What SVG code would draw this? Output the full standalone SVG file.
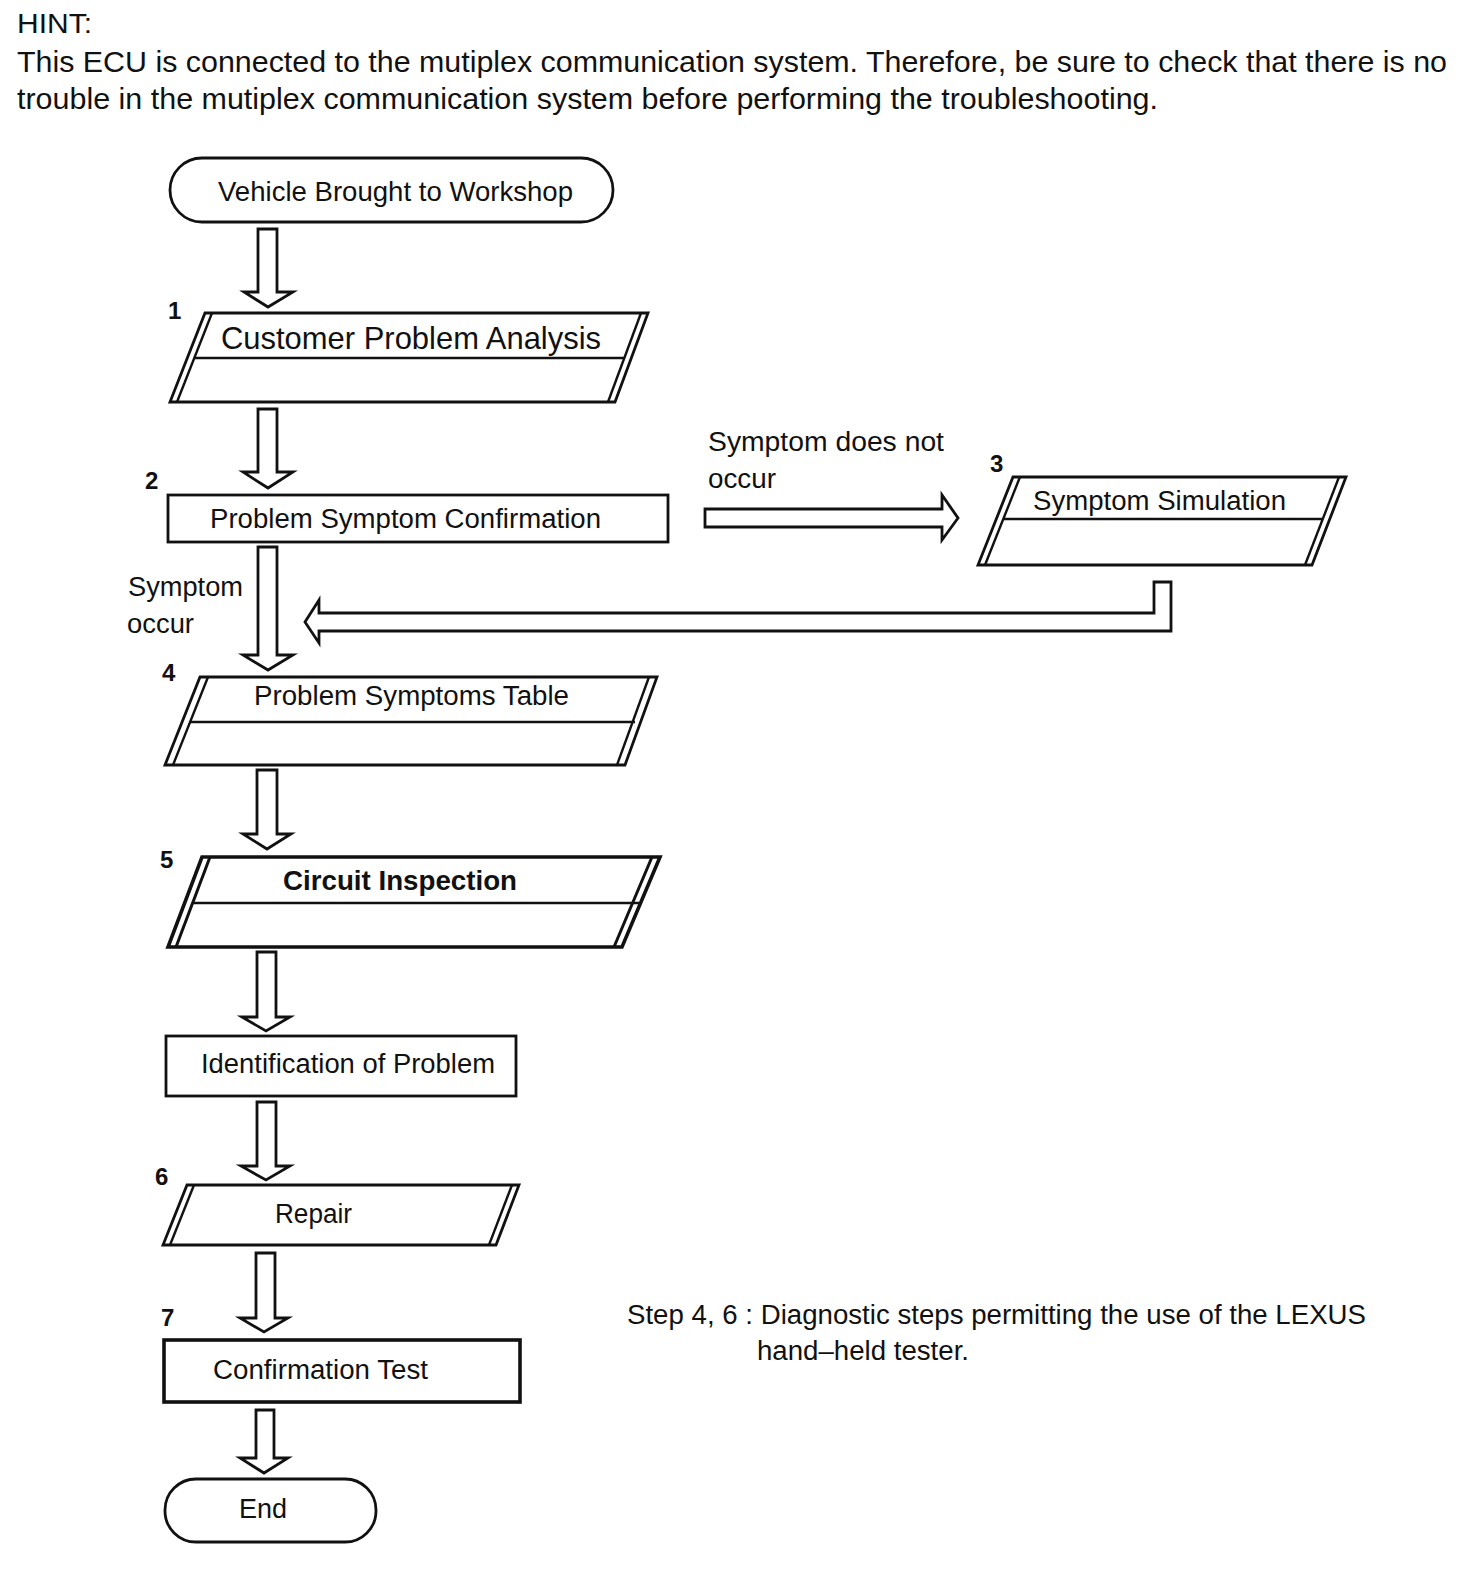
<svg xmlns="http://www.w3.org/2000/svg" width="1472" height="1570" viewBox="0 0 1472 1570">
<style>
text{font-family:"Liberation Sans",Arial,Helvetica,sans-serif;fill:#111;}
.t{font-size:27px;}
.big{font-size:32px;}
.num{font-size:24px;font-weight:bold;}
.shape{fill:#fff;stroke:#111;stroke-width:2.8;stroke-linejoin:miter;}
.thick{stroke-width:3.6;}
.ln{fill:none;stroke:#111;stroke-width:2.4;}
.arr{fill:#fff;stroke:#111;stroke-width:2.8;stroke-linejoin:miter;}
</style>
<rect width="1472" height="1570" fill="#fff"/>

<g id="hint">
<text x="17" y="33" style="font-size:27px" textLength="75" lengthAdjust="spacingAndGlyphs">HINT:</text>
<text x="17" y="72" style="font-size:29px" textLength="1430" lengthAdjust="spacingAndGlyphs">This ECU is connected to the mutiplex communication system. Therefore, be sure to check that there is no</text>
<text x="17" y="109" style="font-size:29px" textLength="1141" lengthAdjust="spacingAndGlyphs">trouble in the mutiplex communication system before performing the troubleshooting.</text>
</g>

<g id="connectors">
<path class="arr" d="M258 229 L277 229 L277 292 L293 292 L268 307 L244 292 L258 292 Z"/>
<path class="arr" d="M258 409 L277 409 L277 472 L293 472 L268 488 L243 472 L258 472 Z"/>
<path class="arr" d="M258 547 L277 547 L277 655 L293 655 L268 670 L243 655 L258 655 Z"/>
<path class="arr" d="M257 770 L277 770 L277 834 L291 834 L267 849 L243 834 L257 834 Z"/>
<path class="arr" d="M257 952 L276 952 L276 1017 L290 1017 L266 1031 L242 1017 L257 1017 Z"/>
<path class="arr" d="M257 1102 L276 1102 L276 1166 L290 1166 L266 1180 L241 1166 L257 1166 Z"/>
<path class="arr" d="M256 1253 L275 1253 L275 1318 L288 1318 L264 1332 L240 1318 L256 1318 Z"/>
<path class="arr" d="M256 1410 L274 1410 L274 1458 L288 1458 L264 1473 L240 1458 L256 1458 Z"/>
<path class="arr" d="M705 509 L942 509 L942 495 L958 518 L942 540 L942 527 L705 527 Z"/>
<path class="arr" d="M1171 582 L1154 582 L1154 613 L319 613 L319 600 L305 622 L319 643 L319 631 L1171 631 Z"/>
</g>

<g id="labels">
<text class="t" x="708" y="451" textLength="236" lengthAdjust="spacingAndGlyphs">Symptom does not</text>
<text class="t" x="708" y="488" textLength="68" lengthAdjust="spacingAndGlyphs">occur</text>
<text class="t" x="128" y="596" textLength="115" lengthAdjust="spacingAndGlyphs">Symptom</text>
<text class="t" x="127" y="633" textLength="67" lengthAdjust="spacingAndGlyphs">occur</text>
</g>

<g id="n0">
<rect class="shape" x="170" y="158" width="443" height="64" rx="32" ry="32"/>
<text x="218" y="201" style="font-size:28px" textLength="355" lengthAdjust="spacingAndGlyphs">Vehicle Brought to Workshop</text>
</g>

<g id="n1">
<polygon class="shape" points="205,313 648,313 615,402 170,402"/>
<line class="ln" x1="212" y1="313" x2="177" y2="402"/>
<line class="ln" x1="641" y1="313" x2="608" y2="402"/>
<line class="ln" x1="194" y1="358" x2="624" y2="358"/>
<text class="big" x="221" y="349" textLength="380" lengthAdjust="spacingAndGlyphs">Customer Problem Analysis</text>
<text class="num" x="168" y="319">1</text>
</g>

<g id="n2">
<rect class="shape" x="168" y="495" width="500" height="47"/>
<text class="t" x="210" y="528" textLength="391" lengthAdjust="spacingAndGlyphs">Problem Symptom Confirmation</text>
<text class="num" x="145" y="489">2</text>
</g>

<g id="n3">
<polygon class="shape" points="1013,477 1346,477 1312,565 978,565"/>
<line class="ln" x1="1020" y1="477" x2="985" y2="565"/>
<line class="ln" x1="1339" y1="477" x2="1305" y2="565"/>
<line class="ln" x1="1003" y1="519" x2="1322" y2="519"/>
<text class="t" x="1033" y="510" textLength="253" lengthAdjust="spacingAndGlyphs">Symptom Simulation</text>
<text class="num" x="990" y="472">3</text>
</g>

<g id="n4">
<polygon class="shape" points="200,677 657,677 625,765 165,765"/>
<line class="ln" x1="208" y1="677" x2="173" y2="765"/>
<line class="ln" x1="649" y1="677" x2="617" y2="765"/>
<line class="ln" x1="190" y1="722" x2="635" y2="722"/>
<text class="t" x="254" y="705" textLength="315" lengthAdjust="spacingAndGlyphs">Problem Symptoms Table</text>
<text class="num" x="162" y="681">4</text>
</g>

<g id="n5">
<polygon class="shape thick" points="202,857 660,857 622,947 168,947"/>
<line class="ln" style="stroke-width:3" x1="210" y1="857" x2="176" y2="947"/>
<line class="ln" style="stroke-width:3" x1="652" y1="857" x2="614" y2="947"/>
<line class="ln" x1="192" y1="903" x2="639" y2="903"/>
<text x="283" y="890" style="font-size:27px;font-weight:bold" textLength="234" lengthAdjust="spacingAndGlyphs">Circuit Inspection</text>
<text class="num" x="160" y="868">5</text>
</g>

<g id="n6">
<rect class="shape" x="166" y="1036" width="350" height="60"/>
<text class="t" x="201" y="1073" textLength="294" lengthAdjust="spacingAndGlyphs">Identification of Problem</text>
</g>

<g id="n7">
<polygon class="shape" points="187,1185 519,1185 496,1245 163,1245"/>
<line class="ln" x1="194" y1="1185" x2="170" y2="1245"/>
<line class="ln" x1="512" y1="1185" x2="489" y2="1245"/>
<text class="t" x="275" y="1223" textLength="77" lengthAdjust="spacingAndGlyphs">Repair</text>
<text class="num" x="155" y="1185">6</text>
</g>

<g id="n8">
<rect class="shape thick" x="164" y="1340" width="356" height="62"/>
<text class="t" x="213" y="1379" textLength="215" lengthAdjust="spacingAndGlyphs">Confirmation Test</text>
<text class="num" x="161" y="1326">7</text>
</g>

<g id="n9">
<rect class="shape" x="165" y="1479" width="211" height="63" rx="31" ry="31"/>
<text class="t" x="239" y="1518" textLength="48" lengthAdjust="spacingAndGlyphs">End</text>
</g>

<g id="note">
<text class="t" x="627" y="1324" textLength="739" lengthAdjust="spacingAndGlyphs">Step 4, 6 : Diagnostic steps permitting the use of the LEXUS</text>
<text class="t" x="757" y="1360" textLength="212" lengthAdjust="spacingAndGlyphs">hand–held tester.</text>
</g>
</svg>
